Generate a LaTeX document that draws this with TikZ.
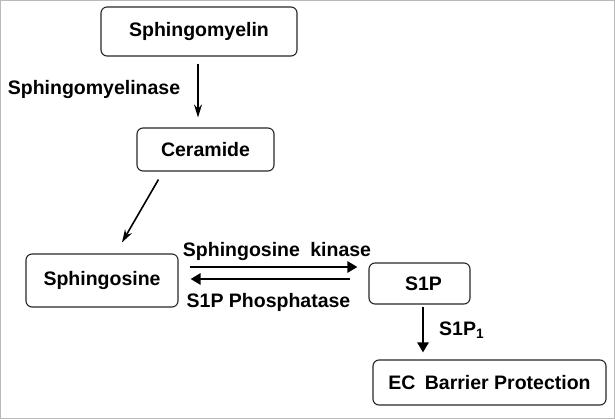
\documentclass[tikz,border=0pt]{standalone}
\usepackage{fontspec}
\setmainfont{Liberation Sans}
\usetikzlibrary{arrows.meta}
\begin{document}
\begin{tikzpicture}[x=1pt,y=-1pt,
  box/.style={draw=black!85,line width=1.1pt,rounded corners=6pt,inner sep=0pt,font=\fontsize{19.5}{22}\selectfont\bfseries},
  lbl/.style={inner sep=0pt,font=\fontsize{19.5}{22}\selectfont\bfseries},
  thinarr/.style={line width=1.6pt,-{Stealth[length=13pt,width=8pt]}},
  thickarr/.style={line width=2.8pt,-{Stealth[length=10pt,width=11pt,inset=0pt]}}]
\useasboundingbox (0,0) rectangle (615,419);
\draw[gray!55,line width=1.2pt] (0.6,0.6) rectangle (614.4,418.4);
\node[box,minimum width=196pt,minimum height=49pt] (sm) at (199,31.5) {Sphingomyelin};
\node[box,minimum width=137pt,minimum height=43pt] (cer) at (205.5,149.5) {Ceramide\hspace{8pt}};
\node[box,minimum width=152pt,minimum height=53pt] (sph) at (102,280.5) {Sphingosine};
\node[box,minimum width=101pt,minimum height=41pt] (s1p) at (419.5,283.5) {\hspace{8pt}S1P};
\node[box,minimum width=233pt,minimum height=45pt] (ec) at (489.5,382.5) {EC\hspace{4pt} Barrier Protection};
\coordinate (ky) at (0,267);
\coordinate (py) at (0,279);
\node[lbl] (smase) at (94,90) {Sphingomyelinase};
\node[lbl] (sk) at (277,252) {Sphingosine\hspace{5pt} kinase};
\node[lbl] (spp) at (268.5,302) {S1P Phosphatase};
\node[lbl,anchor=west] (s1p1) at (439,330) {S1P$_{\mathbf{1}}$};
\draw[thinarr,shorten <=7pt,shorten >=10pt] ([xshift=-1pt]sm.south) -- ([xshift=-1pt]sm.south |- cer.north);
\draw[thinarr] ([xshift=22pt,yshift=-8pt]cer.south west) -- ([xshift=20pt,yshift=11pt]sph.north);
\draw[thickarr,shorten <=11pt,shorten >=11pt] (sph.east |- ky) -- (s1p.west |- ky);
\draw[thickarr,shorten <=18pt,shorten >=12pt] (s1p.west |- py) -- (sph.east |- py);
\draw[thickarr,shorten <=2pt,shorten >=7pt] ([xshift=3.5pt]s1p.south) -- ([xshift=3.5pt]s1p.south |- ec.north);
\end{tikzpicture}
\end{document}
